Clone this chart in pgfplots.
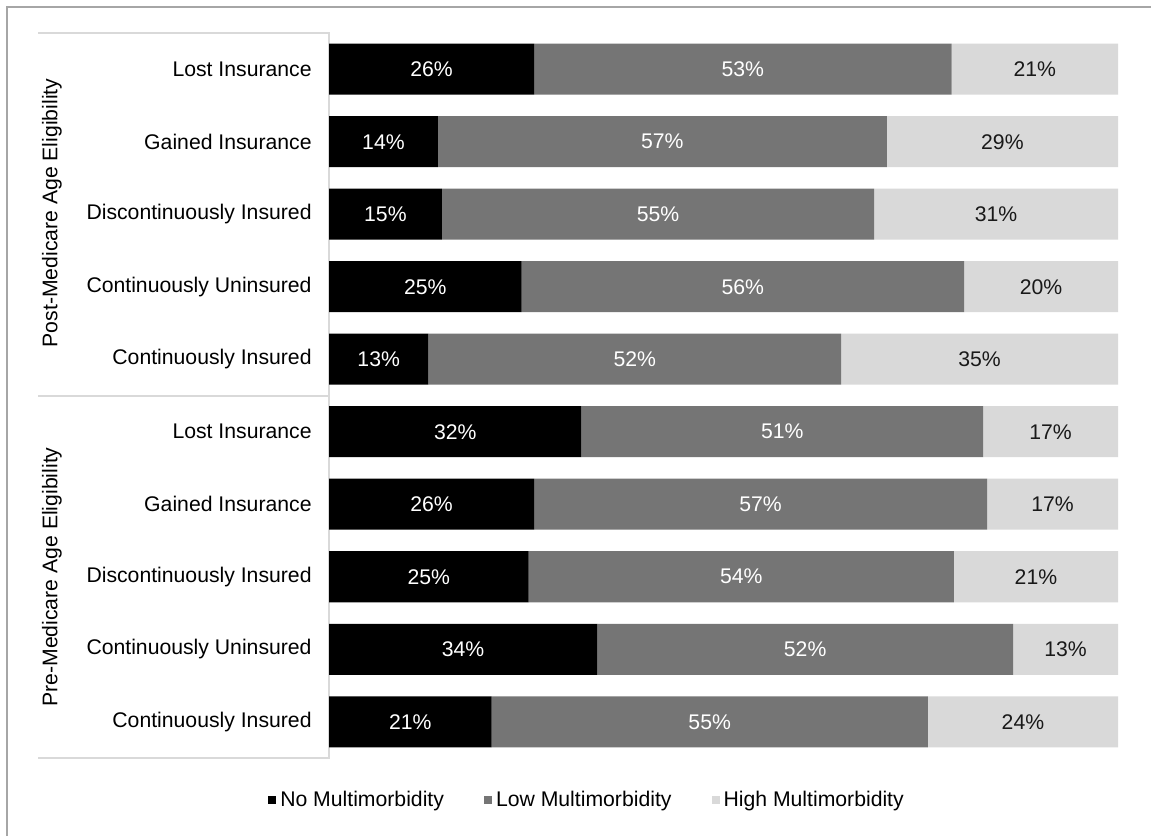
\documentclass[border=0pt]{standalone}
\usepackage{fontspec}
\setmainfont{Liberation Sans}
\usepackage{pgfplots}
\usepackage{pgfplotstable}
\pgfplotsset{compat=1.18}
\definecolor{cNo}{HTML}{000000}
\definecolor{cLow}{HTML}{757575}
\definecolor{cHigh}{HTML}{D9D9D9}
\definecolor{boxline}{HTML}{D9D9D9}
\definecolor{framec}{HTML}{A6A6A6}
\newcommand{\cf}{\fontsize{10.6pt}{12.7pt}\selectfont}

% y: 0 = bottom bar; a = no, b = low, c = high (bar widths); la, lb, lc = printed labels
\pgfplotstableread{
y a b c la lb lc
9 26.0 52.9 21.1 26 53 21
8 13.8 56.9 29.3 14 57 29
7 14.3 54.8 30.9 15 55 31
6 24.4 56.1 19.5 25 56 20
5 12.6 52.3 35.1 13 52 35
4 32.0 50.9 17.1 32 51 17
3 26.0 57.4 16.6 26 57 17
2 25.3 53.9 20.8 25 54 21
1 34.0 52.7 13.3 34 52 13
0 20.6 55.3 24.1 21 55 24
}\data

\pgfplotsset{
  geom/.style={at={(164.5pt,39pt)}, anchor=south west, scale only axis,
    width=394.5pt, height=362.5pt,
    xmin=0, xmax=100, ymin=-0.5, ymax=9.5},
}

\begin{document}
\begin{tikzpicture}
\useasboundingbox (0,0) rectangle (575.5pt,418pt);
\fill[white] (0,0) rectangle (575.5pt,418pt);
\draw[framec, line width=0.7pt] (3.5pt,0) -- (3.5pt,414.5pt) -- (575.5pt,414.5pt);
\draw[boxline, line width=0.9pt] (19pt,401.5pt) -- (164.5pt,401.5pt) -- (164.5pt,39pt) -- (19pt,39pt);
\draw[boxline, line width=0.9pt] (19pt,220pt) -- (164.5pt,220pt);
\node[rotate=90, font=\cf] at (26pt,311.5pt) {Post-Medicare Age Eligibility};
\node[rotate=90, font=\cf] at (26pt,129.5pt) {Pre-Medicare Age Eligibility};
\begin{axis}[
  geom,
  xbar stacked, bar width=25.5pt,
  axis line style={draw=none}, tick style={draw=none},
  xtick=\empty, ytick={0,1,2,3,4,5,6,7,8,9},
  yticklabels={Continuously Insured, Continuously Uninsured, Discontinuously Insured, Gained Insurance, Lost Insurance, Continuously Insured, Continuously Uninsured, Discontinuously Insured, Gained Insurance, Lost Insurance},
  yticklabel style={font=\cf, inner sep=0pt, xshift=-8.5pt},
  legend style={at={(0.3283,-0.0579)}, anchor=center, legend columns=3, draw=none, fill=none, font=\cf,
    /tikz/every even column/.append style={column sep=18pt}},
  legend image code/.code={\fill[#1] (0pt,-2pt) rectangle (4pt,2pt);},
]
\addplot[fill=cNo, draw=none] table[x=a, y=y] {\data};
\addplot[fill=cLow, draw=none] table[x=b, y=y] {\data};
\addplot[fill=cHigh, draw=none] table[x=c, y=y] {\data};
\legend{No Multimorbidity, Low Multimorbidity, High Multimorbidity}
\end{axis}
\begin{axis}[
  geom, hide axis,
  point meta=explicit symbolic,
  nodes near coords={\pgfplotspointmeta\%},
  nodes near coords align=center,
]
\addplot[only marks, mark=*, mark size=0pt, mark options={draw=none, fill=none},
  every node near coord/.append style={font=\cf, text=white, anchor=center}]
  table[x expr=\thisrow{a}/2, y=y, meta=la] {\data};
\addplot[only marks, mark=*, mark size=0pt, mark options={draw=none, fill=none},
  every node near coord/.append style={font=\cf, text=white, anchor=center}]
  table[x expr=\thisrow{a}+\thisrow{b}/2, y=y, meta=lb] {\data};
\addplot[only marks, mark=*, mark size=0pt, mark options={draw=none, fill=none},
  every node near coord/.append style={font=\cf, text=black!90, anchor=center}]
  table[x expr=\thisrow{a}+\thisrow{b}+\thisrow{c}/2, y=y, meta=lc] {\data};
\end{axis}
\end{tikzpicture}
\end{document}
